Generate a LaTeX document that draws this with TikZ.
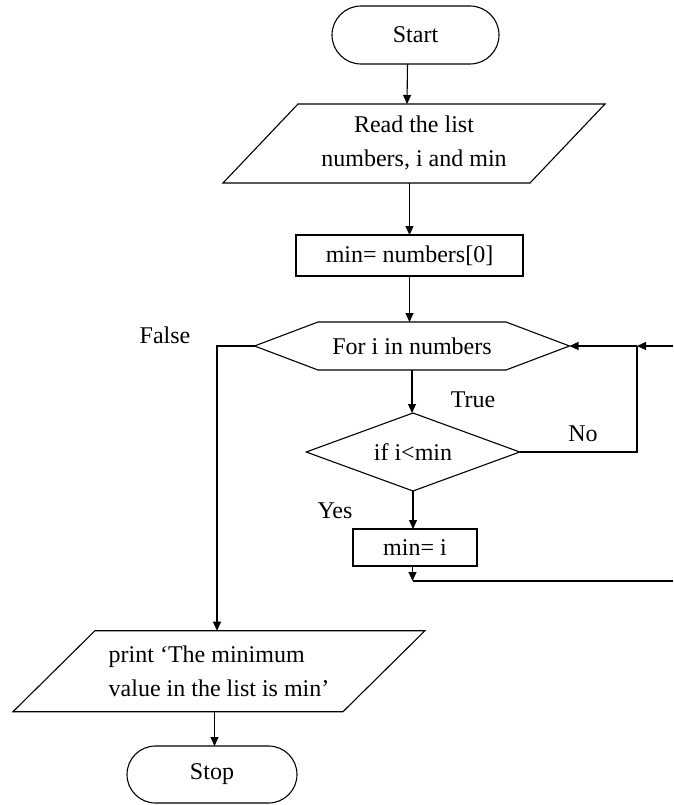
\documentclass[tikz,border=0pt]{standalone}
\usepackage{fontspec}
\setmainfont{Liberation Serif}
\usetikzlibrary{arrows.meta,shapes.misc}
\begin{document}
\begin{tikzpicture}[x=1pt,y=-1pt,
  every node/.style={font=\fontsize{24}{34}\selectfont},
  line/.style={line width=1.1pt},
  arr/.style={line, -{Triangle[length=9pt,width=8pt]}},
  term/.style={draw, line, rounded rectangle, inner sep=0pt, outer sep=0pt},
  proc/.style={draw, line, rectangle, inner sep=0pt, outer sep=0pt},
  frame/.style={rectangle, inner sep=0pt, outer sep=0pt, align=center},
  lbl/.style={inner sep=0pt}]
\useasboundingbox (0,0) rectangle (673,805);

% terminals and process boxes
\node[term, minimum width=167pt, minimum height=58pt] (start) at (415.5,35) {Start};
\node[frame, minimum width=382pt, minimum height=79pt] (read) at (414,143.5) {Read the list\\numbers, i and min};
\draw[line] ([xshift=75pt]read.north west) -- (read.north east) -- ([xshift=-75pt]read.south east) -- (read.south west) -- cycle;

\node[proc, minimum width=227pt, minimum height=41pt] (init) at (409.5,255.5) {min= numbers[0]};

% loop header (hexagon)
\node[frame, minimum width=315pt, minimum height=48pt] (loop) at (412,346) {For i in numbers};
\draw[line] (loop.west) -- ([xshift=63.5pt]loop.north west) -- ([xshift=-63.5pt]loop.north east) -- (loop.east) -- ([xshift=-63.5pt]loop.south east) -- ([xshift=63.5pt]loop.south west) -- cycle;

% decision
\node[frame, minimum width=213.5pt, minimum height=78pt] (test) at (413,452) {if i<min};
\draw[line] (test.north) -- (test.east) -- (test.south) -- (test.west) -- cycle;

\node[proc, minimum width=124pt, minimum height=37pt] (upd) at (415,547.5) {min= i};

% output
\node[frame, minimum width=412pt, minimum height=81pt, align=left] (out) at (219,671.2) {print ‘The minimum\\value in the list is min’};
\draw[line] ([xshift=82pt]out.north west) -- (out.north east) -- ([xshift=-82pt]out.south east) -- (out.south west) -- cycle;

\node[term, minimum width=170pt, minimum height=57pt] (stop) at (212,774.5) {Stop};

% routing points
\coordinate (merge) at (637,346);
\coordinate (back) at (412.5,581);
\coordinate (edgeT) at (673,346);
\coordinate (edgeB) at (673,581);
\coordinate (fbend) at (217,346);

% connectors
\draw[arr] ([xshift=-8pt]start.south) -- ([xshift=-7pt]read.north);
\draw[arr] (init.north |- read.south) -- (init.north);
\draw[arr] (init.south) -- (init.south |- loop.north);
\draw[arr] (loop.south) -- (loop.south |- test.north);
\draw[arr] (test.south) -- (test.south |- upd.north);
\draw[arr] (upd.south -| back) -- (back);
\draw[line] (back) -- (edgeB);
\draw[line] (test.east) -| (merge);
\draw[arr] (edgeT) -- (merge);
\draw[arr] (merge) -- (loop.east);
\draw[arr] (loop.west) -- (fbend) -- (fbend |- out.north);
\draw[arr] ([xshift=2.5pt]stop.north |- out.south) -- ([xshift=2.5pt]stop.north);

% branch labels
\node[lbl] (lfalse) at (165,335) {False};
\node[lbl] (ltrue) at (473,400) {True};
\node[lbl] (lyes) at (335,511) {Yes};
\node[lbl] (lno) at (583,434) {No};
\end{tikzpicture}
\end{document}
